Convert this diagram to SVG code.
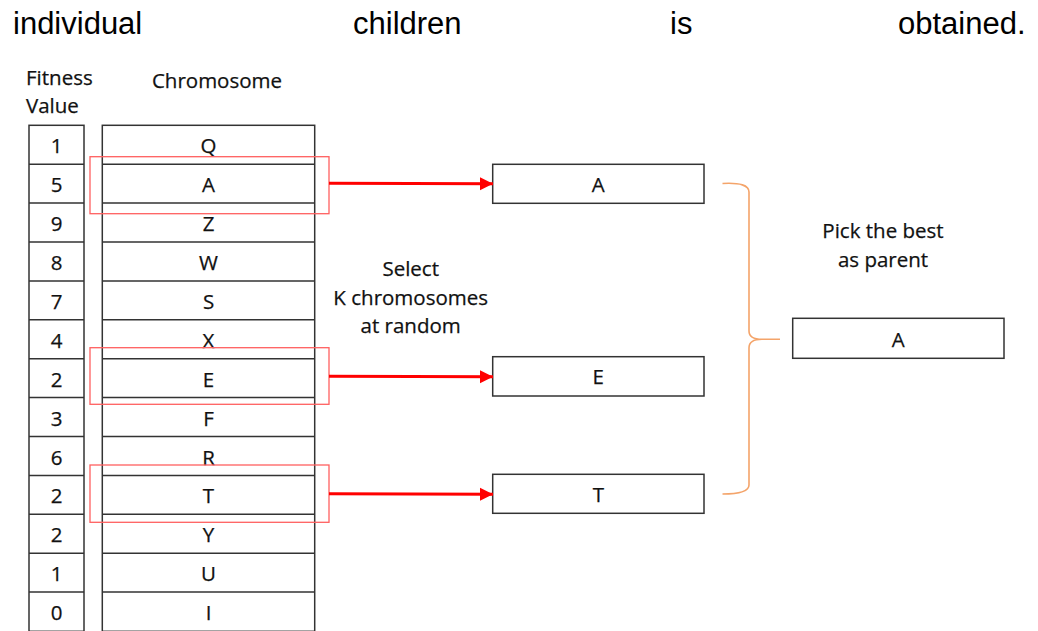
<svg xmlns="http://www.w3.org/2000/svg" width="1038" height="631" viewBox="0 0 1038 631">
<style>
.t{font-family:"Open Sans",Lato,"Liberation Sans",sans-serif;font-size:20.5px;fill:#111;stroke:#111;stroke-width:0.25}
.c{text-anchor:middle}
.top{font-family:"Liberation Sans",Arial,sans-serif;font-size:31px;fill:#000}
.cell{fill:#fff;stroke:#333;stroke-width:1.5}
.sel{fill:none;stroke:#ff6060;stroke-width:1.3}
.arr{stroke:#ff0000;stroke-width:3;fill:none}
.brace{fill:none;stroke:#f4a46a;stroke-width:1.6}
</style>
<defs>
<marker id="ah" markerUnits="userSpaceOnUse" markerWidth="14" markerHeight="14" refX="13" refY="7" orient="auto">
<path d="M0,0.5 L13,7 L0,13.5 Z" fill="#ff0000"/>
</marker>
</defs>
<rect width="1038" height="631" fill="#fff"/>
<g id="caption">
<text class="top" x="13" y="34">individual</text>
<text class="top" x="353" y="34">children</text>
<text class="top" x="670" y="34">is</text>
<text class="top" x="898" y="34">obtained.</text>
</g>
<g id="headers">
<text class="t" x="26" y="85">Fitness</text>
<text class="t" x="26" y="113">Value</text>
<text class="t c" x="217" y="88">Chromosome</text>
</g>
<g id="fitness-table">
<rect class="cell" x="29" y="125.3" width="55" height="506"/>
<path d="M29,164.2H84M29,203.1H84M29,242H84M29,280.9H84M29,319.8H84M29,358.7H84M29,397.6H84M29,436.5H84M29,475.4H84M29,514.3H84M29,553.2H84M29,592.1H84" stroke="#333" stroke-width="1.5"/>
<g class="t c">
<text x="56.5" y="153.3">1</text>
<text x="56.5" y="192.2">5</text>
<text x="56.5" y="231.1">9</text>
<text x="56.5" y="270">8</text>
<text x="56.5" y="308.9">7</text>
<text x="56.5" y="347.8">4</text>
<text x="56.5" y="386.7">2</text>
<text x="56.5" y="425.6">3</text>
<text x="56.5" y="464.5">6</text>
<text x="56.5" y="503.4">2</text>
<text x="56.5" y="542.3">2</text>
<text x="56.5" y="581.2">1</text>
<text x="56.5" y="620.1">0</text>
</g>
</g>
<g id="chromosome-table">
<rect class="cell" x="102.3" y="125.3" width="212.4" height="506"/>
<path d="M102.3,164.2H314.7M102.3,203.1H314.7M102.3,242H314.7M102.3,280.9H314.7M102.3,319.8H314.7M102.3,358.7H314.7M102.3,397.6H314.7M102.3,436.5H314.7M102.3,475.4H314.7M102.3,514.3H314.7M102.3,553.2H314.7M102.3,592.1H314.7" stroke="#333" stroke-width="1.5"/>
<g class="t c">
<text x="208.5" y="153.3">Q</text>
<text x="208.5" y="192.2">A</text>
<text x="208.5" y="231.1">Z</text>
<text x="208.5" y="270">W</text>
<text x="208.5" y="308.9">S</text>
<text x="208.5" y="347.8">X</text>
<text x="208.5" y="386.7">E</text>
<text x="208.5" y="425.6">F</text>
<text x="208.5" y="464.5">R</text>
<text x="208.5" y="503.4">T</text>
<text x="208.5" y="542.3">Y</text>
<text x="208.5" y="581.2">U</text>
<text x="208.5" y="620.1">I</text>
</g>
</g>
<g id="selection-A"><rect class="sel" x="90" y="156.7" width="239" height="57"/></g>
<g id="selection-E"><rect class="sel" x="90" y="347.7" width="239" height="56.6"/></g>
<g id="selection-T"><rect class="sel" x="90" y="465" width="239" height="57.3"/></g>
<g id="label-select">
<text class="t c" x="410.7" y="276">Select</text>
<text class="t c" x="410.7" y="305">K chromosomes</text>
<text class="t c" x="410.7" y="333">at random</text>
</g>
<g id="pick-A"><rect class="cell" x="492.7" y="164.3" width="211.3" height="39"/><text class="t c" x="598.3" y="191.7">A</text></g>
<g id="pick-E"><rect class="cell" x="492.7" y="356.7" width="211.3" height="39.3"/><text class="t c" x="598.3" y="384">E</text></g>
<g id="pick-T"><rect class="cell" x="492.7" y="474.3" width="211.3" height="39"/><text class="t c" x="598.3" y="501.7">T</text></g>
<g id="label-pick">
<text class="t c" x="883" y="238.3">Pick the best</text>
<text class="t c" x="883" y="266.7">as parent</text>
</g>
<g id="parent-A"><rect class="cell" x="792.7" y="318.3" width="211.3" height="40"/><text class="t c" x="898.3" y="346.7">A</text></g>
<g id="connectors">
<line class="arr" x1="329" y1="183.3" x2="493" y2="183.8" marker-end="url(#ah)"/>
<line class="arr" x1="329" y1="376.3" x2="493" y2="376.8" marker-end="url(#ah)"/>
<line class="arr" x1="329" y1="493.8" x2="493" y2="494.2" marker-end="url(#ah)"/>
<path class="brace" d="M722.5,183.5 Q749,182 749,192 L749,331 Q749,339.3 762,339.3 L780,339.3 M762,339.3 Q749,339.3 749,348 L749,485 Q749,494 722.5,494"/>
</g>
</svg>
